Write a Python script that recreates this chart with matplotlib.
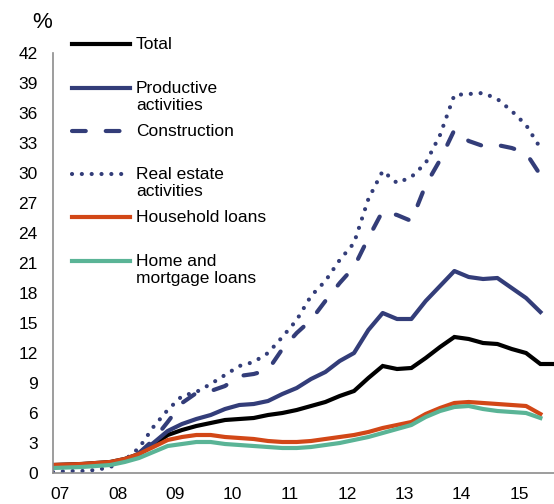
import numpy as np
import matplotlib
matplotlib.use("Agg")
import matplotlib.pyplot as plt
from matplotlib.lines import Line2D

plt.rcParams['font.family'] = ['Liberation Sans', 'DejaVu Sans']

# quarterly data, 2007Q1 .. 2015Q4
nan = np.nan
total = [0.8, 0.85, 0.9, 1.0, 1.1, 1.4, 1.9, 2.8, 3.8, 4.3, 4.7, 5.0, 5.3, 5.4, 5.5, 5.8,
         6.0, 6.3, 6.7, 7.1, 7.7, 8.2, 9.5, 10.7, 10.4, 10.5, 11.5, 12.6, 13.6, 13.4, 13.0,
         12.9, 12.4, 12.0, 10.9, 10.9]
productive = [nan, nan, nan, nan, nan, nan, 2.0, 3.0, 4.2, 4.9, 5.4, 5.8, 6.4, 6.8, 6.9, 7.2,
              7.9, 8.5, 9.4, 10.1, 11.2, 12.0, 14.3, 16.0, 15.4, 15.4, 17.2, 18.7, 20.2, 19.6,
              19.4, 19.5, 18.5, 17.5, 16.1]
construction = [nan, nan, nan, nan, nan, nan, 2.0, 3.3, 5.1, 7.0, 8.0, 8.2, 8.7, 9.7, 9.9, 10.3,
                12.4, 14.0, 15.3, 17.2, 19.0, 20.6, 23.5, 26.2, 25.8, 25.2, 28.8, 31.3, 34.3,
                33.2, 32.7, 32.8, 32.5, 32.0, 29.8]
real_estate = [0.1, 0.2, 0.2, 0.3, 0.6, 1.3, 2.5, 4.6, 6.3, 7.7, 8.1, 8.9, 9.8, 10.7, 11.1, 12.0,
               13.6, 15.3, 17.7, 19.2, 21.3, 23.0, 27.4, 30.2, 29.0, 29.6, 31.0, 33.8, 37.8,
               37.9, 38.0, 37.4, 36.2, 34.8, 32.5]
household = [0.8, 0.85, 0.9, 1.0, 1.1, 1.4, 1.9, 2.6, 3.3, 3.6, 3.8, 3.8, 3.6, 3.5, 3.4, 3.2,
             3.1, 3.1, 3.2, 3.4, 3.6, 3.8, 4.1, 4.5, 4.8, 5.1, 5.9, 6.5, 7.0, 7.1, 7.0, 6.9,
             6.8, 6.7, 5.9]
home = [0.5, 0.55, 0.6, 0.7, 0.8, 1.1, 1.5, 2.1, 2.7, 2.9, 3.1, 3.1, 2.9, 2.8, 2.7, 2.6,
        2.5, 2.5, 2.6, 2.8, 3.0, 3.3, 3.6, 4.0, 4.4, 4.8, 5.6, 6.2, 6.6, 6.7, 6.4, 6.2,
        6.1, 6.0, 5.5]
year_labels = ['07', '08', '09', '10', '11', '12', '13', '14', '15']

blue = '#333D79'
orange = '#D24717'
green = '#5AB496'
lw = 3

fig = plt.figure(figsize=(5.54, 5.04), dpi=100)
ax = fig.add_axes([53 / 554, 31 / 504, 1 - 53 / 554, 420 / 504])

ax.plot(np.arange(len(total)), total, color='black', lw=lw, solid_joinstyle='miter')
ax.plot(np.arange(len(productive)), productive, color=blue, lw=lw)
ax.plot(np.arange(len(construction)), construction, color=blue, lw=lw,
        dashes=(3.3, 4.8), dash_capstyle='round')
ax.plot(np.arange(len(real_estate)), real_estate, color=blue, lw=lw,
        dashes=(0.01, 2.35), dash_capstyle='round')
ax.plot(np.arange(len(household)), household, color=orange, lw=lw)
ax.plot(np.arange(len(home)), home, color=green, lw=lw)

ax.set_xlim(0, 34.95)
ax.set_ylim(0, 42)
ax.set_yticks(np.arange(0, 43, 3))
ax.set_xticks(np.arange(len(year_labels)) * 4 + 0.5)
ax.set_xticklabels(year_labels)
ax.tick_params(axis='both', length=0, labelsize=12.5, colors='black')
ax.tick_params(axis='y', pad=11)
ax.tick_params(axis='x', pad=10)
for s in ['top', 'right']:
    ax.spines[s].set_visible(False)
for s in ['left', 'bottom']:
    ax.spines[s].set_color('#8C8C8C')
    ax.spines[s].set_linewidth(1.2)

fig.text(42 / 554, 1 - 23 / 504, '%', fontsize=16, ha='center', va='center')

# legend drawn by hand so handles line up with the first text line
entries = [
    ('Total', 44, dict(color='black')),
    ('Productive\nactivities', 88, dict(color=blue)),
    ('Construction', 131, dict(color=blue, dashes=(3.3, 4.8), dash_capstyle='round')),
    ('Real estate\nactivities', 174, dict(color=blue, dashes=(0.01, 2.35), dash_capstyle='round')),
    ('Household loans', 217, dict(color=orange)),
    ('Home and\nmortgage loans', 261, dict(color=green)),
]
for label, py, style in entries:
    yy = 1 - py / 504
    fig.add_artist(Line2D([72 / 554, 130 / 554], [yy, yy], transform=fig.transFigure,
                          lw=lw, **style))
    fig.text(136 / 554, yy + 7 / 504, label, fontsize=12.5, ha='left', va='top',
             linespacing=1.15)

fig.savefig('out.png', dpi=100)
